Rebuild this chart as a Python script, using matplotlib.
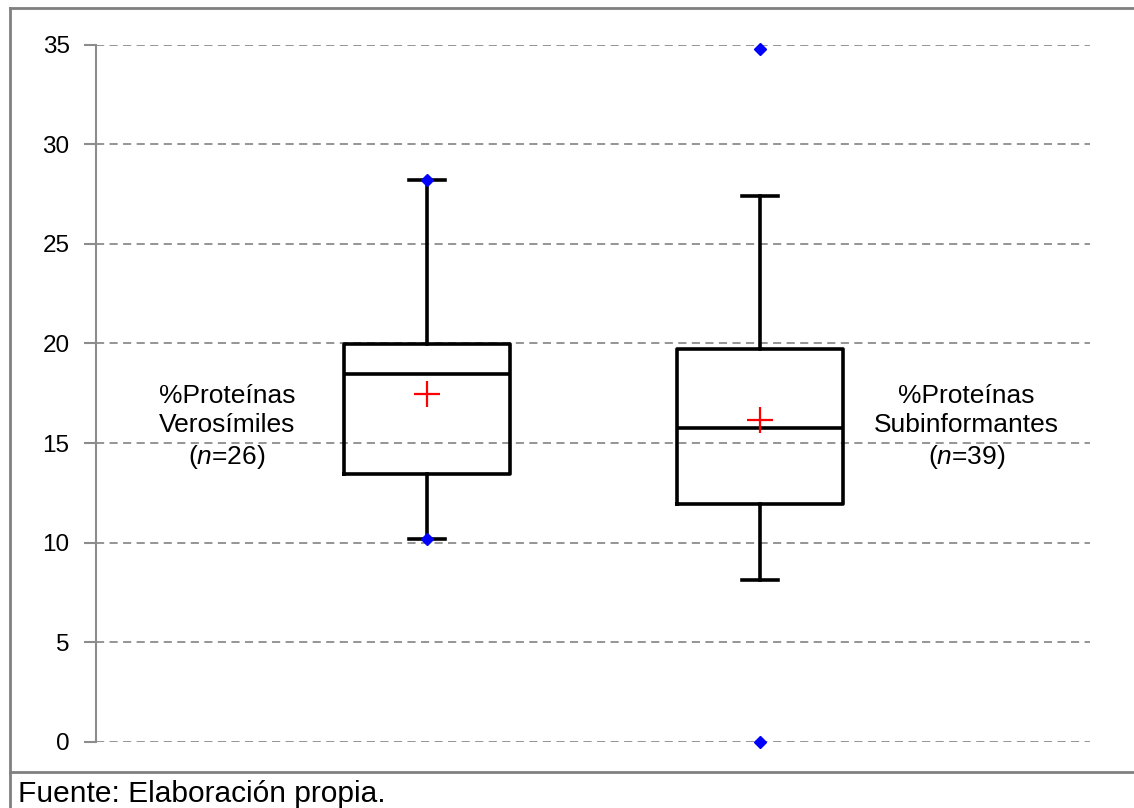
import matplotlib
matplotlib.use("Agg")
import matplotlib.pyplot as plt
from matplotlib.lines import Line2D

plt.rcParams['font.family'] = ['Liberation Sans', 'DejaVu Sans']
plt.rcParams['mathtext.fontset'] = 'custom'
plt.rcParams['mathtext.rm'] = 'Liberation Sans'
plt.rcParams['mathtext.it'] = 'Liberation Sans:italic'

# ---- data ----
labels = ["%Proteínas\nVerosímiles\n($\\it{n}$=26)", "%Proteínas\nSubinformantes\n($\\it{n}$=39)"]
whislo = [10.18, 8.12]
q1 = [13.45, 11.95]
medians = [18.47, 15.77]
q3 = [19.95, 19.72]
whishi = [28.18, 27.40]
means = [17.48, 16.15]
minimums = [10.18, 0.0]
maximums = [28.18, 34.76]
yticks = [0, 5, 10, 15, 20, 25, 30, 35]
source = "Fuente: Elaboración propia."

W, H = 1134, 808
fig = plt.figure(figsize=(W / 100, H / 100), dpi=100)
ax = fig.add_axes([96 / W, 1 - 742 / H, (1090 - 96) / W, (742 - 44.5) / H])

positions = [1, 2]
stats = []
for i in range(2):
    stats.append(dict(whislo=whislo[i], q1=q1[i], med=medians[i], q3=q3[i],
                      whishi=whishi[i], fliers=[], mean=means[i]))

blk = dict(color='black', linewidth=2.6)
ax.bxp(stats, positions=positions, widths=0.5, capwidths=0.11,
       showfliers=False, showmeans=False,
       boxprops=blk, whiskerprops=blk, capprops=blk, medianprops=blk)

ax.plot(positions, means, linestyle='none', marker='+', color='red',
        markersize=19, markeredgewidth=1.6, zorder=5)
for i, p in enumerate(positions):
    ax.plot([p, p], [minimums[i], maximums[i]], linestyle='none', marker='D',
            color='blue', markersize=6.5, clip_on=False, zorder=6)

ax.set_xlim(0.006, 2.991)
ax.set_ylim(0, 35)
ax.set_yticks(yticks)
ax.set_yticklabels([str(t) for t in yticks], fontsize=17.5)
ax.set_xticks([])
for s in ['top', 'right', 'bottom']:
    ax.spines[s].set_visible(False)
ax.spines['left'].set_color('#8c8c8c')
ax.spines['left'].set_linewidth(1.5)
ax.tick_params(axis='y', direction='out', length=9, width=1.5, color='#8c8c8c', pad=10)
ax.yaxis.grid(True, linestyle=(0, (4.5, 3.0)), color='#8c8c8c', linewidth=1.3)
ax.set_axisbelow(True)

ax.text(0.40, 15.8, labels[0], ha='center', va='center', fontsize=19,
        linespacing=1.27, multialignment='center')
ax.text(2.62, 15.8, labels[1], ha='center', va='center', fontsize=19,
        linespacing=1.27, multialignment='center')

# frame lines (table borders)
gc = '#808080'
fig.add_artist(Line2D([10 / W, 10 / W], [0, 1 - 8 / H], transform=fig.transFigure, color=gc, linewidth=2))
fig.add_artist(Line2D([10 / W, 1], [1 - 8 / H, 1 - 8 / H], transform=fig.transFigure, color=gc, linewidth=2))
fig.add_artist(Line2D([10 / W, 1], [1 - 772 / H, 1 - 772 / H], transform=fig.transFigure, color=gc, linewidth=2))

fig.text(18 / W, 1 - 802 / H, source, fontsize=21.5, ha='left', va='baseline')

fig.savefig("out.png", dpi=100)
